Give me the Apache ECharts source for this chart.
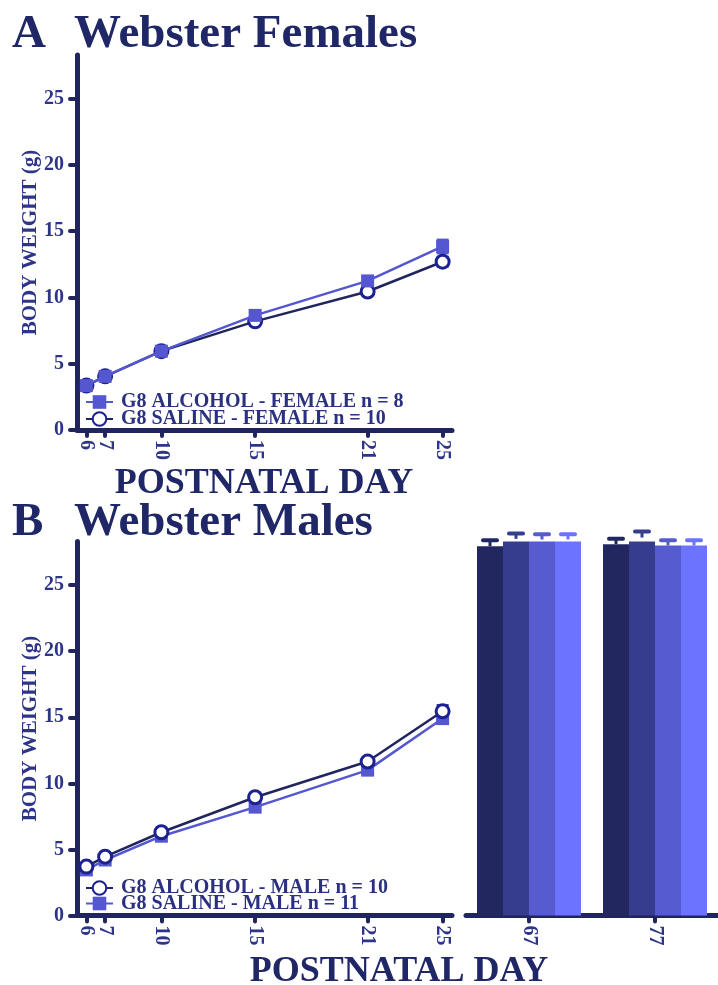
<!DOCTYPE html>
<html><head><meta charset="utf-8">
<script src="https://cdn.jsdelivr.net/npm/echarts@6/dist/echarts.min.js"></script>
<style>html,body{margin:0;padding:0;background:#fff;}#c{width:718px;height:985px;}</style>
</head><body><div id="c"></div>
<script>
// ---------- data ----------
const dayTicks = [6, 7, 10, 15, 21, 25];
const weightTicks = [0, 5, 10, 15, 20, 25];
const days = [6, 7, 10, 15, 21, 25];

const femaleAlcoholName = 'G8 ALCOHOL - FEMALE n = 8';
const femaleSalineName = 'G8 SALINE - FEMALE n = 10';
const femaleAlcohol = [3.35, 4.05, 5.95, 8.65, 11.25, 13.85];
const femaleAlcoholErr = [0.15, 0.15, 0.2, 0.25, 0.35, 0.5];
const femaleSaline = [3.35, 4.05, 5.95, 8.2, 10.45, 12.7];
const femaleSalineErr = [0.1, 0.1, 0.15, 0.2, 0.25, 0.35];

const maleAlcoholName = 'G8 ALCOHOL - MALE n = 10';
const maleSalineName = 'G8 SALINE - MALE n = 11';
const maleAlcohol = [3.7, 4.45, 6.3, 8.95, 11.65, 15.45];
const maleAlcoholErr = [0.15, 0.15, 0.2, 0.25, 0.3, 0.45];
const maleSaline = [3.45, 4.2, 6.0, 8.2, 11.0, 14.9];
const maleSalineErr = [0.1, 0.15, 0.15, 0.2, 0.25, 0.35];

const adultDays = ['67', '77'];
const adultGroups = ['Group 1', 'Group 2', 'Group 3', 'Group 4'];
const adultValues = [[27.95, 28.1], [28.5, 28.6], [28.45, 28.0], [28.45, 28.0]];
const adultErr = [[0.45, 0.4], [0.4, 0.45], [0.4, 0.4], [0.4, 0.4]];

// ---------- style ----------
const NAVY = '#20255E';
const LABEL = '#2E3588';
const TITLE = '#1F2766';
const MID = '#5457CF';
const CIRC = '#1B2290';
const barColors = ['#222760', '#363C8E', '#565BCE', '#6B73FF'];
const SERIF = '"Liberation Serif", "DejaVu Serif", serif';
const BAR_W = 26;
const YMAX = 28.3;

// tick labels alternate between two overlaid axes so that close labels (6, 7) both stay visible
const dayLabelsEven = dayTicks.filter((d, i) => i % 2 === 0);
const dayLabelsOdd = dayTicks.filter((d, i) => i % 2 === 1);

const chart = echarts.init(document.getElementById('c'));

const xLabelStyle = { rotate: -90, margin: 10, hideOverlap: false, showMinLabel: true, showMaxLabel: true,
  color: LABEL, fontFamily: SERIF, fontWeight: 'bold', fontSize: 20 };

function valueXAxis(gi, labels) {
  return {
    type: 'value', gridIndex: gi, min: 5.5, max: 25.5,
    splitLine: { show: false },
    axisLine: { show: true, lineStyle: { color: NAVY, width: 5 } },
    axisTick: { show: true, customValues: dayTicks, length: 6, lineStyle: { color: NAVY, width: 4, cap: 'round' } },
    axisLabel: Object.assign({ customValues: labels }, xLabelStyle)
  };
}
function overlayXAxis(gi, labels) {
  return {
    type: 'value', gridIndex: gi, min: 5.5, max: 25.5, position: 'bottom',
    splitLine: { show: false }, axisLine: { show: false }, axisTick: { show: false },
    axisLabel: Object.assign({ customValues: labels }, xLabelStyle)
  };
}
function valueYAxis(gi, show) {
  return {
    type: 'value', gridIndex: gi, min: 0, max: YMAX, show: show,
    name: show ? 'BODY WEIGHT (g)' : '', nameLocation: 'middle', nameGap: 36, nameRotate: 90, nameMoveOverlap: false,
    nameTextStyle: { color: LABEL, fontFamily: SERIF, fontWeight: 'bold', fontSize: 21 },
    splitLine: { show: false },
    axisLine: { show: show, lineStyle: { color: NAVY, width: 5 } },
    axisTick: { show: show, customValues: weightTicks, length: 7, lineStyle: { color: NAVY, width: 4, cap: 'round' } },
    axisLabel: { show: show, customValues: weightTicks, margin: 13, color: LABEL, fontFamily: SERIF, fontWeight: 'bold', fontSize: 20 }
  };
}

function errSeries(gi, vals, errs, color) {
  return {
    type: 'custom', xAxisIndex: gi, yAxisIndex: gi, z: 1,
    data: days.map((d, i) => [d, vals[i], errs[i]]),
    renderItem: function (params, api) {
      const x = api.value(0), v = api.value(1), e = api.value(2);
      const top = api.coord([x, v + e]), bot = api.coord([x, v - e]);
      const style = { stroke: color, lineWidth: 2.5 };
      return { type: 'group', children: [
        { type: 'line', shape: { x1: top[0], y1: top[1], x2: bot[0], y2: bot[1] }, style: style },
        { type: 'line', shape: { x1: top[0] - 6, y1: top[1], x2: top[0] + 6, y2: top[1] }, style: style },
        { type: 'line', shape: { x1: bot[0] - 6, y1: bot[1], x2: bot[0] + 6, y2: bot[1] }, style: style }
      ] };
    }
  };
}
function squareSeries(gi, name, vals, z) {
  return {
    type: 'line', name: name, xAxisIndex: gi, yAxisIndex: gi, z: z,
    data: days.map((d, i) => [d, vals[i]]),
    symbol: 'rect', symbolSize: 13,
    lineStyle: { color: MID, width: 2.5 },
    itemStyle: { color: MID },
    emphasis: { disabled: true }
  };
}
function circleSeries(gi, name, vals, z) {
  return {
    type: 'line', name: name, xAxisIndex: gi, yAxisIndex: gi, z: z,
    data: days.map((d, i) => [d, vals[i]]),
    symbol: 'circle', symbolSize: 13,
    lineStyle: { color: NAVY, width: 2.5 },
    itemStyle: { color: '#fff', borderColor: CIRC, borderWidth: 3 },
    emphasis: { disabled: true }
  };
}

const barSeries = adultGroups.map((g, si) => ({
  type: 'bar', name: g, xAxisIndex: 2, yAxisIndex: 2,
  data: adultValues[si], barWidth: BAR_W, barGap: '0%',
  itemStyle: { color: barColors[si] }, emphasis: { disabled: true }
}));
const barErr = {
  type: 'custom', xAxisIndex: 2, yAxisIndex: 2, z: 3,
  data: adultGroups.flatMap((g, si) => adultDays.map((d, ci) => [ci, adultValues[si][ci], adultErr[si][ci], si])),
  renderItem: function (params, api) {
    const ci = api.value(0), v = api.value(1), e = api.value(2), si = api.value(3);
    const off = (si - (adultGroups.length - 1) / 2) * BAR_W;
    const base = api.coord([ci, v]), top = api.coord([ci, v + e]);
    const x = base[0] + off;
    const col = barColors[si];
    return { type: 'group', children: [
      { type: 'line', shape: { x1: x, y1: base[1], x2: x, y2: top[1] }, style: { stroke: col, lineWidth: 3 } },
      { type: 'line', shape: { x1: x - 7, y1: top[1], x2: x + 7, y2: top[1] }, style: { stroke: col, lineWidth: 4, lineCap: 'round' } }
    ] };
  }
};

const legendText = { color: '#2B3180', fontFamily: SERIF, fontWeight: 'bold', fontSize: 20, padding: [0, 0, 0, 3] };

chart.setOption({
  animation: false,
  backgroundColor: '#fff',
  grid: [
    { left: 77, top: 55, width: 375, height: 375 },
    { left: 77, top: 541.5, width: 375, height: 374 },
    { left: 466, top: 541.5, right: -6, height: 374 }
  ],
  xAxis: [
    valueXAxis(0, dayLabelsEven),
    valueXAxis(1, dayLabelsEven),
    {
      type: 'category', gridIndex: 2, data: adultDays,
      axisLine: { show: true, lineStyle: { color: NAVY, width: 5 } },
      axisTick: { show: true, alignWithLabel: true, length: 6, lineStyle: { color: NAVY, width: 4, cap: 'round' } },
      axisLabel: { rotate: -90, margin: 10, color: LABEL, fontFamily: SERIF, fontWeight: 'bold', fontSize: 20 }
    },
    overlayXAxis(0, dayLabelsOdd),
    overlayXAxis(1, dayLabelsOdd)
  ],
  yAxis: [valueYAxis(0, true), valueYAxis(1, true), valueYAxis(2, false)],
  legend: [
    { data: [femaleAlcoholName, femaleSalineName], orient: 'vertical', left: 85, top: 392, padding: 0,
      itemWidth: 27, itemHeight: 17, itemGap: -3, textStyle: legendText, selectedMode: false },
    { data: [maleAlcoholName, maleSalineName], orient: 'vertical', left: 85, top: 878, padding: 0,
      itemWidth: 27, itemHeight: 17, itemGap: -4.5, textStyle: legendText, selectedMode: false }
  ],
  graphic: [
    { type: 'text', x: 12, y: 35, style: { text: 'A', font: 'bold 47px ' + SERIF, fill: TITLE, textVerticalAlign: 'middle' } },
    { type: 'text', x: 74, y: 35, style: { text: 'Webster Females', font: 'bold 47px ' + SERIF, fill: TITLE, textVerticalAlign: 'middle' } },
    { type: 'text', x: 12, y: 523, style: { text: 'B', font: 'bold 47px ' + SERIF, fill: TITLE, textVerticalAlign: 'middle' } },
    { type: 'text', x: 74, y: 523, style: { text: 'Webster Males', font: 'bold 47px ' + SERIF, fill: TITLE, textVerticalAlign: 'middle' } },
    { type: 'text', x: 264, y: 484, style: { text: 'POSTNATAL DAY', font: 'bold 36px ' + SERIF, fill: TITLE, textAlign: 'center', textVerticalAlign: 'middle' } },
    { type: 'text', x: 399, y: 972, style: { text: 'POSTNATAL DAY', font: 'bold 36px ' + SERIF, fill: TITLE, textAlign: 'center', textVerticalAlign: 'middle' } }
  ],
  series: [
    errSeries(0, femaleSaline, femaleSalineErr, CIRC),
    errSeries(0, femaleAlcohol, femaleAlcoholErr, MID),
    circleSeries(0, femaleSalineName, femaleSaline, 2),
    squareSeries(0, femaleAlcoholName, femaleAlcohol, 3),
    errSeries(1, maleAlcohol, maleAlcoholErr, CIRC),
    errSeries(1, maleSaline, maleSalineErr, MID),
    squareSeries(1, maleSalineName, maleSaline, 2),
    circleSeries(1, maleAlcoholName, maleAlcohol, 3),
    ...barSeries,
    barErr
  ]
});
</script></body></html>
